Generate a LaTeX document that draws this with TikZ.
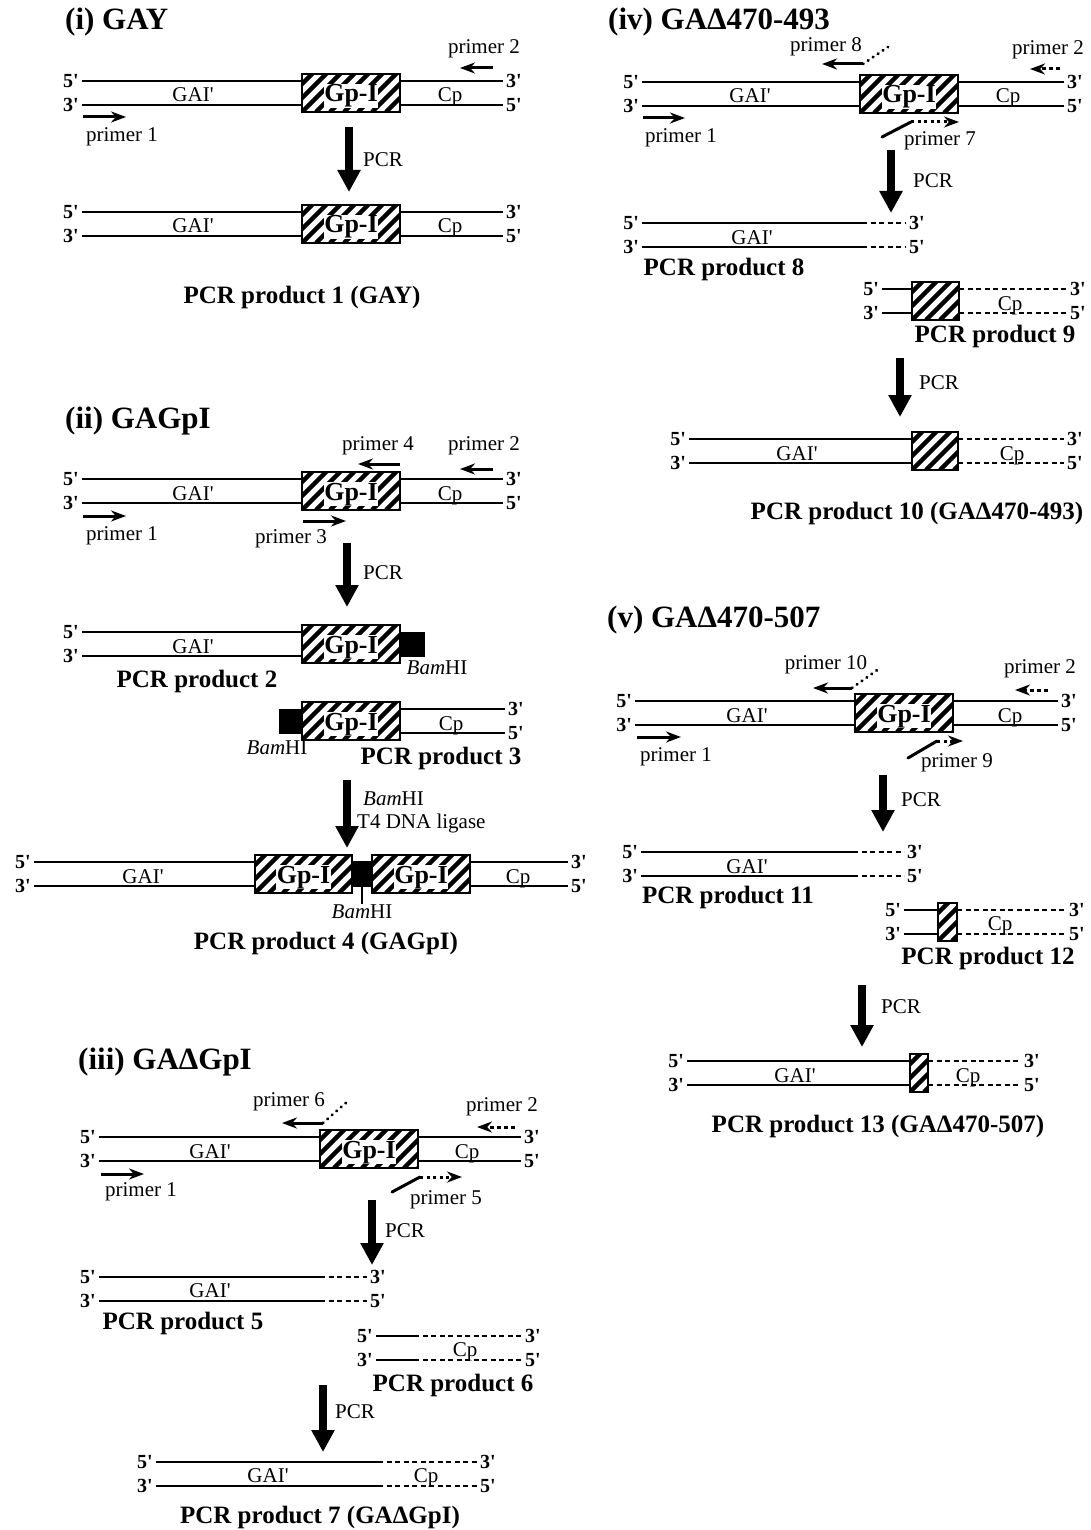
\documentclass[tikz,border=0pt]{standalone}
\usepackage{fontspec}
\setmainfont{Liberation Serif}[Ligatures=TeXOff]
\usetikzlibrary{arrows.meta, positioning}

\tikzset{
  strand/.style={line width=1.6pt},
  ext/.style={line width=1.6pt, dash pattern=on 5pt off 3.5pt},
  gp/.style={draw, fill=white, line width=2pt, inner sep=0pt, outer sep=0pt, minimum height=38pt,
    path picture={\foreach \k in {-3,...,7}
      \draw[line width=4.5pt] ([xshift=\k*14pt]path picture bounding box.south west) -- ++(45pt,45pt);}},
  gpt/.style={fill=white, inner sep=0.5pt, anchor=base, font=\bfseries\fontsize{26}{30}\selectfont},
  bam/.style={fill=black, inner sep=0pt, outer sep=0pt},
  lab/.style={inner sep=1pt, font=\fontsize{21}{23}\selectfont},
  term/.style={inner sep=3pt, font=\bfseries\fontsize{20}{24}\selectfont},
  prod/.style={inner sep=1pt, font=\bfseries\fontsize{25}{30}\selectfont},
  ttl/.style={anchor=west, inner sep=0pt, font=\bfseries\fontsize{31}{36}\selectfont},
  primer/.style={line width=3pt, -{Stealth[length=15pt,width=11pt]}},
  dprimer/.style={primer, dash pattern=on 4pt off 3pt},
  tprimer/.style={primer, dash pattern=on 3pt off 3.5pt},
  ptail/.style={line width=3pt, line cap=round, dash pattern=on 0.5pt off 5.5pt},
  pcr/.style={line width=8pt, -{Triangle[length=22pt,width=22pt]}},
}

\begin{document}
\begin{tikzpicture}[x=1pt, y=-1pt]
  \useasboundingbox (0,0) rectangle (1091,1530);

  % (i) GAY
  \node[ttl] (ta) at (65,22) {(i) GAY};
  \node[term, anchor=east] (a5t) at (82,81) {5'};
  \node[term, anchor=east] (a3b) at (82,105) {3'};
  \node[term, anchor=west] (a3t) at (503,81) {3'};
  \node[term, anchor=west] (a5b) at (503,105) {5'};
  \draw[strand] (a5t) -- (a3t);
  \draw[strand] (a3b) -- (a5b);
  \node[gp, minimum width=98pt] (ag) at (351,93) {};
  \node[gpt] (agl) at ([yshift=-9pt]ag.center) {Gp-I};
  \node[lab, anchor=base] (agai) at (193,102) {GAI'};
  \node[lab, anchor=base] (acp) at (450,102) {Cp};
  \coordinate (ap2s) at (493,68); \coordinate (ap2e) at (460,68);
  \draw[primer] (ap2s) -- (ap2e);
  \node[lab] (ap2) at (484,49) {primer 2};
  \coordinate (ap1s) at (83,117); \coordinate (ap1e) at (126,117);
  \draw[primer] (ap1s) -- (ap1e);
  \node[lab] (ap1) at (122,137) {primer 1};
  \coordinate (aas) at (349,127); \coordinate (aae) at (349,192);
  \draw[pcr] (aas) -- (aae);
  \node[lab, anchor=west] (apcr) at (362,160) {PCR};

  \node[term, anchor=east] (b5t) at (82,212) {5'};
  \node[term, anchor=east] (b3b) at (82,236) {3'};
  \node[term, anchor=west] (b3t) at (503,212) {3'};
  \node[term, anchor=west] (b5b) at (503,236) {5'};
  \draw[strand] (b5t) -- (b3t);
  \draw[strand] (b3b) -- (b5b);
  \node[gp, minimum width=98pt] (bg) at (351,224) {};
  \node[gpt] (bgl) at ([yshift=-9pt]bg.center) {Gp-I};
  \node[lab, anchor=base] (bgai) at (193,233) {GAI'};
  \node[lab, anchor=base] (bcp) at (450,233) {Cp};
  \node[prod] (bp) at (302,297) {PCR product 1 (GAY)};

  % (ii) GAGpI
  \node[ttl] (tb) at (65,421) {(ii) GAGpI};
  \node[term, anchor=east] (c5t) at (82,479) {5'};
  \node[term, anchor=east] (c3b) at (82,503) {3'};
  \node[term, anchor=west] (c3t) at (503,479) {3'};
  \node[term, anchor=west] (c5b) at (503,503) {5'};
  \draw[strand] (c5t) -- (c3t);
  \draw[strand] (c3b) -- (c5b);
  \node[gp, minimum width=98pt] (cg) at (351,491) {};
  \node[gpt] (cgl) at ([yshift=-9pt]cg.center) {Gp-I};
  \node[lab, anchor=base] (cgai) at (193,500) {GAI'};
  \node[lab, anchor=base] (ccp) at (450,500) {Cp};
  \coordinate (cp4s) at (400,464); \coordinate (cp4e) at (358,464);
  \draw[primer] (cp4s) -- (cp4e);
  \node[lab] (cp4) at (378,446) {primer 4};
  \coordinate (cp2s) at (493,469); \coordinate (cp2e) at (460,469);
  \draw[primer] (cp2s) -- (cp2e);
  \node[lab] (cp2) at (484,446) {primer 2};
  \coordinate (cp1s) at (83,516); \coordinate (cp1e) at (126,516);
  \draw[primer] (cp1s) -- (cp1e);
  \node[lab] (cp1) at (122,536) {primer 1};
  \coordinate (cp3s) at (303,521); \coordinate (cp3e) at (346,521);
  \draw[primer] (cp3s) -- (cp3e);
  \node[lab] (cp3) at (291,539) {primer 3};
  \coordinate (cas) at (347,543); \coordinate (cae) at (347,607);
  \draw[pcr] (cas) -- (cae);
  \node[lab, anchor=west] (cpcr) at (362,573) {PCR};

  \node[term, anchor=east] (d5t) at (82,632) {5'};
  \node[term, anchor=east] (d3b) at (82,656) {3'};
  \draw[strand] (d5t) -- (d5t -| 351,0);
  \draw[strand] (d3b) -- (d3b -| 351,0);
  \node[gp, minimum width=98pt] (dg) at (351,644) {};
  \node[gpt] (dgl) at ([yshift=-9pt]dg.center) {Gp-I};
  \node[bam, minimum width=25pt, minimum height=25pt, anchor=west] (dbam) at (dg.east) {};
  \node[lab] (dbaml) at (437,668) {{\itshape Bam}HI};
  \node[lab, anchor=base] (dgai) at (193,653) {GAI'};
  \node[prod] (dp) at (197,681) {PCR product 2};

  \node[term, anchor=west] (e3t) at (505,709) {3'};
  \node[term, anchor=west] (e5b) at (505,733) {5'};
  \draw[strand] (e3t) -- (e3t -| 351,0);
  \draw[strand] (e5b) -- (e5b -| 351,0);
  \node[gp, minimum width=98pt] (eg) at (351,721) {};
  \node[gpt] (egl) at ([yshift=-9pt]eg.center) {Gp-I};
  \node[bam, minimum width=23pt, minimum height=25pt, anchor=east] (ebam) at (eg.west) {};
  \node[lab] (ebaml) at (277,748) {{\itshape Bam}HI};
  \node[lab, anchor=base] (ecp) at (451,730) {Cp};
  \node[prod] (ep) at (441,758) {PCR product 3};

  \coordinate (eas) at (347,780); \coordinate (eae) at (347,848);
  \draw[pcr] (eas) -- (eae);
  \node[lab, anchor=west, align=left] (elig) at (356,812) {\hspace*{6pt}{\itshape Bam}HI\\T4 DNA ligase};

  \node[term, anchor=east] (f5t) at (34,862) {5'};
  \node[term, anchor=east] (f3b) at (34,886) {3'};
  \node[term, anchor=west] (f3t) at (568,862) {3'};
  \node[term, anchor=west] (f5b) at (568,886) {5'};
  \draw[strand] (f5t) -- (f3t);
  \draw[strand] (f3b) -- (f5b);
  \node[gp, minimum width=97pt] (fga) at (303.5,874) {};
  \node[gpt] (fgal) at ([yshift=-9pt]fga.center) {Gp-I};
  \node[bam, minimum width=20pt, minimum height=22pt, anchor=west] (fbam) at (fga.east) {};
  \node[gp, minimum width=98pt, anchor=west] (fgb) at (fbam.east) {};
  \node[gpt] (fgbl) at ([yshift=-9pt]fgb.center) {Gp-I};
  \node[lab] (fbaml) at (362,912) {{\itshape Bam}HI};
  \draw[strand] (fbam) -- (fbaml);
  \node[lab, anchor=base] (fgai) at (143,883) {GAI'};
  \node[lab, anchor=base] (fcp) at (518,883) {Cp};
  \node[prod] (fp) at (326,943) {PCR product 4 (GAGpI)};

  % (iii) GA-delta-GpI
  \node[ttl] (tc) at (78,1062) {(iii) GAΔGpI};
  \node[term, anchor=east] (g5t) at (99,1137) {5'};
  \node[term, anchor=east] (g3b) at (99,1161) {3'};
  \node[term, anchor=west] (g3t) at (521,1137) {3'};
  \node[term, anchor=west] (g5b) at (521,1161) {5'};
  \draw[strand] (g5t) -- (g3t);
  \draw[strand] (g3b) -- (g5b);
  \node[gp, minimum width=98pt] (gg) at (369,1149) {};
  \node[gpt] (ggl) at ([yshift=-9pt]gg.center) {Gp-I};
  \node[lab, anchor=base] (ggai) at (210,1158) {GAI'};
  \node[lab, anchor=base] (gcp) at (467,1158) {Cp};
  \coordinate (gp6s) at (323,1123); \coordinate (gp6e) at (282,1123); \coordinate (gp6t) at (348,1101);
  \draw[primer] (gp6s) -- (gp6e);
  \draw[ptail] (gp6s) -- (gp6t);
  \node[lab] (gp6) at (289,1102) {primer 6};
  \coordinate (gp2s) at (515,1127); \coordinate (gp2e) at (477,1127);
  \draw[dprimer] (gp2s) -- (gp2e);
  \node[lab] (gp2) at (502,1107) {primer 2};
  \coordinate (gp1s) at (101,1174); \coordinate (gp1e) at (144,1174);
  \draw[primer] (gp1s) -- (gp1e);
  \node[lab] (gp1) at (141,1192) {primer 1};
  \coordinate (gp5a) at (392,1192); \coordinate (gp5b) at (420,1177); \coordinate (gp5c) at (462,1177);
  \draw[ptail, solid] (gp5a) -- (gp5b);
  \draw[tprimer] (gp5b) -- (gp5c);
  \node[lab] (gp5) at (446,1200) {primer 5};
  \coordinate (gas) at (372,1200); \coordinate (gae) at (372,1265);
  \draw[pcr] (gas) -- (gae);
  \node[lab, anchor=west] (gpcr) at (384,1231) {PCR};

  \node[term, anchor=east] (h5t) at (99,1277) {5'};
  \node[term, anchor=east] (h3b) at (99,1301) {3'};
  \node[term, anchor=west] (h3t) at (367,1277) {3'};
  \node[term, anchor=west] (h5b) at (367,1301) {5'};
  \coordinate (hmt) at (320,1277); \coordinate (hmb) at (320,1301);
  \draw[strand] (h5t) -- (hmt);
  \draw[ext] (hmt) -- (h3t);
  \draw[strand] (h3b) -- (hmb);
  \draw[ext] (hmb) -- (h5b);
  \node[lab, anchor=base] (hgai) at (210,1297) {GAI'};
  \node[prod] (hp) at (183,1323) {PCR product 5};

  \node[term, anchor=east] (i5t) at (376,1336) {5'};
  \node[term, anchor=east] (i3b) at (376,1360) {3'};
  \node[term, anchor=west] (i3t) at (522,1336) {3'};
  \node[term, anchor=west] (i5b) at (522,1360) {5'};
  \coordinate (imt) at (414,1336); \coordinate (imb) at (414,1360);
  \draw[strand] (i5t) -- (imt);
  \draw[ext] (imt) -- (i3t);
  \draw[strand] (i3b) -- (imb);
  \draw[ext] (imb) -- (i5b);
  \node[lab, anchor=base] (icp) at (465,1356) {Cp};
  \node[prod] (ip) at (453,1385) {PCR product 6};

  \coordinate (ias) at (323,1385); \coordinate (iae) at (323,1452);
  \draw[pcr] (ias) -- (iae);
  \node[lab, anchor=west] (ipcr) at (334,1412) {PCR};

  \node[term, anchor=east] (j5t) at (156,1462) {5'};
  \node[term, anchor=east] (j3b) at (156,1486) {3'};
  \node[term, anchor=west] (j3t) at (477,1462) {3'};
  \node[term, anchor=west] (j5b) at (477,1486) {5'};
  \coordinate (jmt) at (378,1462); \coordinate (jmb) at (378,1486);
  \draw[strand] (j5t) -- (jmt);
  \draw[ext] (jmt) -- (j3t);
  \draw[strand] (j3b) -- (jmb);
  \draw[ext] (jmb) -- (j5b);
  \node[lab, anchor=base] (jgai) at (268,1482) {GAI'};
  \node[lab, anchor=base] (jcp) at (426,1482) {Cp};
  \node[prod] (jp) at (320,1517) {PCR product 7 (GAΔGpI)};

  % (iv) GA-delta-470-493
  \node[ttl] (td) at (608,22) {(iv) GAΔ470-493};
  \node[term, anchor=east] (k5t) at (642,82) {5'};
  \node[term, anchor=east] (k3b) at (642,106) {3'};
  \node[term, anchor=west] (k3t) at (1064,82) {3'};
  \node[term, anchor=west] (k5b) at (1064,106) {5'};
  \draw[strand] (k5t) -- (k3t);
  \draw[strand] (k3b) -- (k5b);
  \node[gp, minimum width=98pt] (kg) at (909,94) {};
  \node[gpt] (kgl) at ([yshift=-9pt]kg.center) {Gp-I};
  \node[lab, anchor=base] (kgai) at (750,103) {GAI'};
  \node[lab, anchor=base] (kcp) at (1008,103) {Cp};
  \coordinate (kp8s) at (863,64); \coordinate (kp8e) at (822,64); \coordinate (kp8t) at (888,47);
  \draw[primer] (kp8s) -- (kp8e);
  \draw[ptail] (kp8s) -- (kp8t);
  \node[lab] (kp8) at (826,47) {primer 8};
  \coordinate (kp2s) at (1060,69); \coordinate (kp2e) at (1030,69);
  \draw[dprimer] (kp2s) -- (kp2e);
  \node[lab] (kp2) at (1048,50) {primer 2};
  \coordinate (kp1s) at (643,118); \coordinate (kp1e) at (685,118);
  \draw[primer] (kp1s) -- (kp1e);
  \node[lab] (kp1) at (681,138) {primer 1};
  \coordinate (kp7a) at (882,137); \coordinate (kp7b) at (911,122); \coordinate (kp7c) at (959,122);
  \draw[ptail, solid] (kp7a) -- (kp7b);
  \draw[tprimer] (kp7b) -- (kp7c);
  \node[lab] (kp7) at (940,141) {primer 7};
  \coordinate (kas) at (891,150); \coordinate (kae) at (891,213);
  \draw[pcr] (kas) -- (kae);
  \node[lab, anchor=west] (kpcr) at (912,181) {PCR};

  \node[term, anchor=east] (l5t) at (642,223) {5'};
  \node[term, anchor=east] (l3b) at (642,247) {3'};
  \node[term, anchor=west] (l3t) at (906,223) {3'};
  \node[term, anchor=west] (l5b) at (906,247) {5'};
  \coordinate (lmt) at (862,223); \coordinate (lmb) at (862,247);
  \draw[strand] (l5t) -- (lmt);
  \draw[ext] (lmt) -- (l3t);
  \draw[strand] (l3b) -- (lmb);
  \draw[ext] (lmb) -- (l5b);
  \node[lab, anchor=base] (lgai) at (752,244) {GAI'};
  \node[prod] (lp) at (724,269) {PCR product 8};

  \node[term, anchor=east] (m5t) at (882,289) {5'};
  \node[term, anchor=east] (m3b) at (882,313) {3'};
  \node[term, anchor=west] (m3t) at (1067,289) {3'};
  \node[term, anchor=west] (m5b) at (1067,313) {5'};
  \node[gp, minimum width=47pt] (mg) at (935.5,301) {};
  \draw[strand] (m5t) -- (mg.west |- m5t);
  \draw[strand] (m3b) -- (mg.west |- m3b);
  \draw[ext] (mg.east |- m3t) -- (m3t);
  \draw[ext] (mg.east |- m5b) -- (m5b);
  \node[lab, anchor=base] (mcp) at (1010,310) {Cp};
  \node[prod] (mp) at (995,336) {PCR product 9};

  \coordinate (mas) at (900,358); \coordinate (mae) at (900,417);
  \draw[pcr] (mas) -- (mae);
  \node[lab, anchor=west] (mpcr) at (918,383) {PCR};

  \node[term, anchor=east] (n5t) at (689,439) {5'};
  \node[term, anchor=east] (n3b) at (689,463) {3'};
  \node[term, anchor=west] (n3t) at (1064,439) {3'};
  \node[term, anchor=west] (n5b) at (1064,463) {5'};
  \node[gp, minimum width=46pt] (ng) at (935,451) {};
  \draw[strand] (n5t) -- (ng.west |- n5t);
  \draw[strand] (n3b) -- (ng.west |- n3b);
  \draw[ext] (ng.east |- n3t) -- (n3t);
  \draw[ext] (ng.east |- n5b) -- (n5b);
  \node[lab, anchor=base] (ngai) at (797,460) {GAI'};
  \node[lab, anchor=base] (ncp) at (1012,460) {Cp};
  \node[prod] (np) at (917,513) {PCR product 10 (GAΔ470-493)};

  % (v) GA-delta-470-507
  \node[ttl] (te) at (607,620) {(v) GAΔ470-507};
  \node[term, anchor=east] (o5t) at (635,701) {5'};
  \node[term, anchor=east] (o3b) at (635,725) {3'};
  \node[term, anchor=west] (o3t) at (1058,701) {3'};
  \node[term, anchor=west] (o5b) at (1058,725) {5'};
  \draw[strand] (o5t) -- (o3t);
  \draw[strand] (o3b) -- (o5b);
  \node[gp, minimum width=98pt] (og) at (904,713) {};
  \node[gpt] (ogl) at ([yshift=-9pt]og.center) {Gp-I};
  \node[lab, anchor=base] (ogai) at (747,722) {GAI'};
  \node[lab, anchor=base] (ocp) at (1010,722) {Cp};
  \coordinate (op10s) at (852,688); \coordinate (op10e) at (813,688); \coordinate (op10t) at (880,668);
  \draw[primer] (op10s) -- (op10e);
  \draw[ptail] (op10s) -- (op10t);
  \node[lab] (op10) at (826,665) {primer 10};
  \coordinate (op2s) at (1048,690); \coordinate (op2e) at (1015,690);
  \draw[dprimer] (op2s) -- (op2e);
  \node[lab] (op2) at (1040,669) {primer 2};
  \coordinate (op1s) at (637,737); \coordinate (op1e) at (681,737);
  \draw[primer] (op1s) -- (op1e);
  \node[lab] (op1) at (676,757) {primer 1};
  \coordinate (op9a) at (908,758); \coordinate (op9b) at (937,741); \coordinate (op9c) at (963,741);
  \draw[ptail, solid] (op9a) -- (op9b);
  \draw[tprimer] (op9b) -- (op9c);
  \node[lab] (op9) at (957,763) {primer 9};
  \coordinate (oas) at (883,775); \coordinate (oae) at (883,832);
  \draw[pcr] (oas) -- (oae);
  \node[lab, anchor=west] (opcr) at (900,800) {PCR};

  \node[term, anchor=east] (q5t) at (641,852) {5'};
  \node[term, anchor=east] (q3b) at (641,876) {3'};
  \node[term, anchor=west] (q3t) at (904,852) {3'};
  \node[term, anchor=west] (q5b) at (904,876) {5'};
  \coordinate (qmt) at (853,852); \coordinate (qmb) at (853,876);
  \draw[strand] (q5t) -- (qmt);
  \draw[ext] (qmt) -- (q3t);
  \draw[strand] (q3b) -- (qmb);
  \draw[ext] (qmb) -- (q5b);
  \node[lab, anchor=base] (qgai) at (747,873) {GAI'};
  \node[prod] (qp) at (728,897) {PCR product 11};

  \node[term, anchor=east] (r5t) at (904,910) {5'};
  \node[term, anchor=east] (r3b) at (904,934) {3'};
  \node[term, anchor=west] (r3t) at (1066,910) {3'};
  \node[term, anchor=west] (r5b) at (1066,934) {5'};
  \node[gp, minimum width=19pt] (rg) at (947.5,922) {};
  \draw[strand] (r5t) -- (rg.west |- r5t);
  \draw[strand] (r3b) -- (rg.west |- r3b);
  \draw[ext] (rg.east |- r3t) -- (r3t);
  \draw[ext] (rg.east |- r5b) -- (r5b);
  \node[lab, anchor=base] (rcp) at (1000,930) {Cp};
  \node[prod] (rp) at (988,958) {PCR product 12};

  \coordinate (ras) at (862,985); \coordinate (rae) at (862,1047);
  \draw[pcr] (ras) -- (rae);
  \node[lab, anchor=west] (rpcr) at (880,1007) {PCR};

  \node[term, anchor=east] (s5t) at (687,1061) {5'};
  \node[term, anchor=east] (s3b) at (687,1085) {3'};
  \node[term, anchor=west] (s3t) at (1021,1061) {3'};
  \node[term, anchor=west] (s5b) at (1021,1085) {5'};
  \node[gp, minimum width=18pt] (sg) at (919,1073) {};
  \draw[strand] (s5t) -- (sg.west |- s5t);
  \draw[strand] (s3b) -- (sg.west |- s3b);
  \draw[ext] (sg.east |- s3t) -- (s3t);
  \draw[ext] (sg.east |- s5b) -- (s5b);
  \node[lab, anchor=base] (sgai) at (795,1082) {GAI'};
  \node[lab, anchor=base] (scp) at (968,1082) {Cp};
  \node[prod] (sp) at (878,1126) {PCR product 13 (GAΔ470-507)};
\end{tikzpicture}
\end{document}
